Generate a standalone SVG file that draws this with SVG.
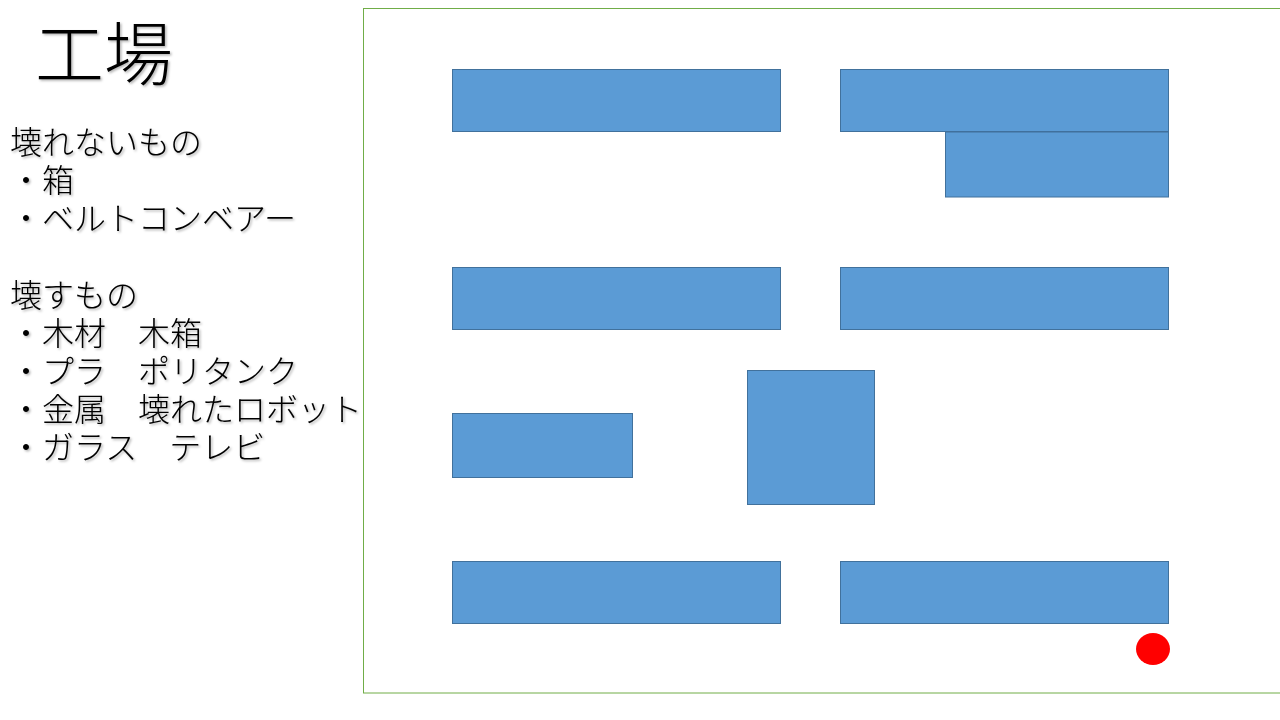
<svg xmlns="http://www.w3.org/2000/svg" width="1280" height="720" viewBox="0 0 1280 720">
<defs>
<filter id="sh" x="-10%" y="-10%" width="130%" height="130%">
<feDropShadow dx="1.5" dy="1.5" stdDeviation="1" flood-color="#000" flood-opacity="0.3"/>
</filter>
</defs>
<style>
.t{font-family:"Noto Sans CJK JP","Noto Sans",sans-serif;fill:#000;font-weight:300;}
.b{fill:#5B9BD5;stroke:#41719C;stroke-width:1;}
</style>
<rect x="0" y="0" width="1280" height="720" fill="#fff"/>
<g id="frame"><rect x="363.5" y="8.5" width="930" height="684.5" fill="none" stroke="#70AD47" stroke-width="1"/></g>
<g id="title" filter="url(#sh)"><text class="t" x="35" y="80" font-size="69">工場</text></g>
<g id="legend" filter="url(#sh)" font-size="32">
<text class="t" x="10" y="154">壊れないもの</text>
<text class="t" x="10" y="192">・箱</text>
<text class="t" x="10" y="230">・ベルトコンベアー</text>
<text class="t" x="10" y="307">壊すもの</text>
<text class="t" x="10" y="345">・木材　木箱</text>
<text class="t" x="10" y="383">・プラ　ポリタンク</text>
<text class="t" x="10" y="421">・金属　壊れたロボット</text>
<text class="t" x="10" y="459">・ガラス　テレビ</text>
</g>
<g id="block1"><rect class="b" x="452.5" y="69.5" width="328" height="62"/></g>
<g id="block2"><rect class="b" x="840.5" y="69.5" width="328" height="62"/></g>
<g id="block3"><rect class="b" x="945.5" y="132" width="223" height="65"/></g>
<g id="block4"><rect class="b" x="452.5" y="267.5" width="328" height="62"/></g>
<g id="block5"><rect class="b" x="840.5" y="267.5" width="328" height="62"/></g>
<g id="block6"><rect class="b" x="452.5" y="413.5" width="180" height="64"/></g>
<g id="block7"><rect class="b" x="747.5" y="370.5" width="127" height="134"/></g>
<g id="block8"><rect class="b" x="452.5" y="561.5" width="328" height="62"/></g>
<g id="block9"><rect class="b" x="840.5" y="561.5" width="328" height="62"/></g>
<g id="player"><ellipse cx="1153" cy="649" rx="17" ry="16" fill="#FF0000"/></g>
<g id="connectors"></g>
</svg>
